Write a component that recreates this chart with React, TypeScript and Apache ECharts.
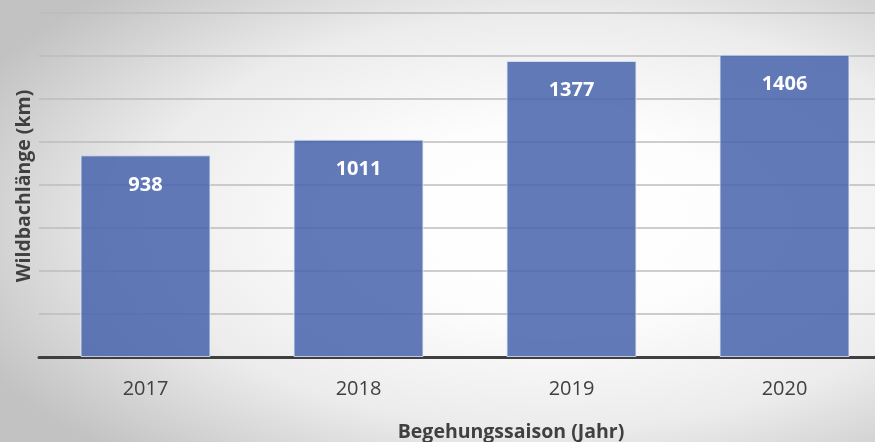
import React, { useEffect, useRef } from "react";
import * as echarts from "echarts";

const categories = ["2017", "2018", "2019", "2020"];
const values = [938, 1011, 1377, 1406];
const yMin = 0;
const yMax = 1600;
const yInterval = 200;
const xAxisTitle = "Begehungssaison (Jahr)";
const yAxisTitle = "Wildbachlänge (km)";

export default function App() {
  const ref = useRef<HTMLDivElement>(null);
  useEffect(() => {
    if (!ref.current) return;
    const chart = echarts.init(ref.current, null, { renderer: "svg" });
    chart.setOption({
      animation: false,
      backgroundColor: {
        type: "radial",
        x: 0.62,
        y: 0.5,
        r: 0.72,
        colorStops: [
          { offset: 0, color: "#ffffff" },
          { offset: 0.3, color: "#fdfdfd" },
          { offset: 0.65, color: "#ececec" },
          { offset: 1, color: "#c2c2c2" },
        ],
      },
      grid: { left: 39, top: 13, right: 0, height: 344, containLabel: false },
      xAxis: {
        type: "category",
        data: categories,
        axisLine: { lineStyle: { color: "#3f3f3f", width: 3 } },
        axisTick: { show: false },
        axisLabel: {
          color: "#404040",
          fontSize: 20,
          fontFamily: "Open Sans",
          margin: 20,
        },
      },
      yAxis: {
        type: "value",
        min: yMin,
        max: yMax,
        interval: yInterval,
        axisLabel: { show: false },
        axisLine: { show: false },
        axisTick: { show: false },
        splitLine: { lineStyle: { color: "#bdbdbd", width: 1.5 } },
      },
      series: [
        {
          type: "bar",
          data: values,
          barCategoryGap: "39%",
          itemStyle: {
            color: "rgba(71,100,172,0.85)",
            borderColor: "rgba(225,232,250,0.8)",
            borderWidth: 1,
          },
          label: {
            show: true,
            position: "insideTop",
            distance: 18,
            color: "#ffffff",
            fontWeight: "bold",
            fontSize: 20,
            fontFamily: "Open Sans",
          },
        },
      ],
      graphic: [
        {
          type: "text",
          x: 511,
          y: 430,
          style: {
            text: xAxisTitle,
            fill: "#404040",
            font: "bold 19.5px 'Open Sans'",
            textAlign: "center",
            textVerticalAlign: "middle",
          },
        },
        {
          type: "text",
          x: 22,
          y: 186,
          rotation: Math.PI / 2,
          style: {
            text: yAxisTitle,
            fill: "#404040",
            font: "bold 19.5px 'Open Sans'",
            textAlign: "center",
            textVerticalAlign: "middle",
          },
        },
      ],
    });
    return () => chart.dispose();
  }, []);
  return (
    <div style={{ position: "fixed", left: 0, top: 0, width: 875, height: 442, overflow: "hidden" }}>
      <div ref={ref} style={{ position: "absolute", left: 0, top: 0, width: 891, height: 442 }} />
    </div>
  );
}
